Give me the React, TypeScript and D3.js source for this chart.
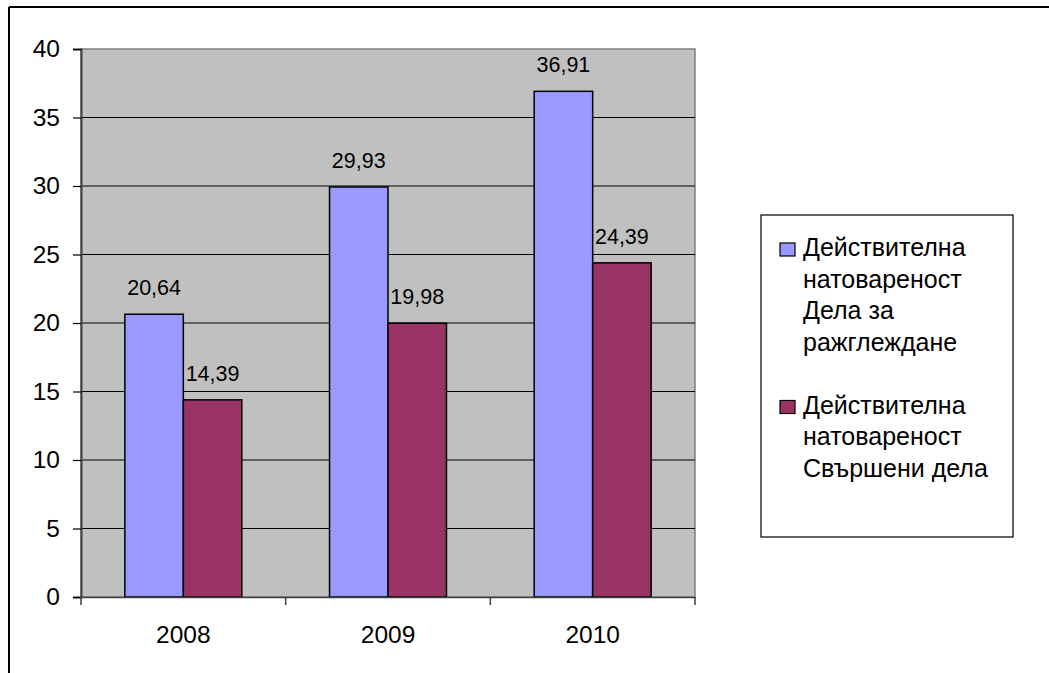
import { useEffect, useRef } from 'react'
import * as d3 from 'd3'

const YEARS = ['2008', '2009', '2010']
const SERIES_NAMES = [
  ['Действителна', 'натовареност', 'Дела за', 'ражглеждане'],
  ['Действителна', 'натовареност', 'Свършени дела'],
]
const CASES_TO_REVIEW = [20.64, 29.93, 36.91]
const CASES_DONE = [14.39, 19.98, 24.39]
const Y_TICKS = [0, 5, 10, 15, 20, 25, 30, 35, 40]
const COLORS = ['#9999FF', '#993366']

const FONT = 'Arial, "Liberation Sans", sans-serif'

export default function App() {
  const svgRef = useRef<SVGSVGElement>(null)

  useEffect(() => {
    if (!svgRef.current) return
    document.body.style.margin = '0'
    const svg = d3.select(svgRef.current)
    svg.selectAll('*').remove()

    const W = 1049
    const H = 673
    const plot = { left: 81, right: 695, top: 49, bottom: 597 }

    svg.attr('width', W).attr('height', H)
    svg.append('rect').attr('width', W).attr('height', H).attr('fill', '#fff')

    // outer chart frame (only top and left visible)
    svg.append('line').attr('x1', 9).attr('x2', W).attr('y1', 7).attr('y2', 7)
      .attr('stroke', '#000').attr('stroke-width', 2)
    svg.append('line').attr('x1', 9).attr('x2', 9).attr('y1', 7).attr('y2', H)
      .attr('stroke', '#000').attr('stroke-width', 2)

    // scales
    const x0 = d3.scaleBand<string>().domain(YEARS).range([plot.left, plot.right]).padding(0)
    const x1 = d3.scaleBand<number>().domain([0, 1]).range([0, x0.bandwidth()])
      .paddingInner(0).paddingOuter(0.75)
    const y = d3.scaleLinear().domain([0, 40]).range([plot.bottom, plot.top])

    // plot area
    svg.append('rect')
      .attr('x', plot.left).attr('y', plot.top)
      .attr('width', plot.right - plot.left).attr('height', plot.bottom - plot.top)
      .attr('fill', '#C0C0C0').attr('stroke', '#808080').attr('stroke-width', 1.5)

    // gridlines
    svg.append('g').selectAll('line')
      .data(Y_TICKS.filter(t => t > 0 && t < 40))
      .join('line')
      .attr('x1', plot.left).attr('x2', plot.right)
      .attr('y1', d => y(d)).attr('y2', d => y(d))
      .attr('stroke', '#000').attr('stroke-width', 1.2)

    // bars
    const series = [CASES_TO_REVIEW, CASES_DONE]
    series.forEach((vals, si) => {
      svg.append('g').selectAll('rect')
        .data(vals)
        .join('rect')
        .attr('x', (_, i) => x0(YEARS[i])! + x1(si)!)
        .attr('y', d => y(d))
        .attr('width', x1.bandwidth())
        .attr('height', d => plot.bottom - y(d))
        .attr('fill', COLORS[si])
        .attr('stroke', '#000').attr('stroke-width', 1.5)

      svg.append('g').selectAll('text')
        .data(vals)
        .join('text')
        .attr('x', (_, i) => x0(YEARS[i])! + x1(si)! + x1.bandwidth() / 2)
        .attr('y', d => y(d) - 19)
        .attr('text-anchor', 'middle')
        .attr('font-family', FONT).attr('font-size', 21.5).attr('fill', '#000')
        .text(d => d.toFixed(2).replace('.', ','))
    })

    // y axis
    const yAxis = svg.append('g').attr('transform', `translate(${plot.left},0)`)
      .call(d3.axisLeft(y).tickValues(Y_TICKS).tickSize(8).tickPadding(13).tickFormat(d3.format('d')))
    yAxis.select('.domain').attr('stroke', '#404040').attr('stroke-width', 2)
    yAxis.selectAll('.tick line').attr('stroke', '#000').attr('stroke-width', 1.2)
    yAxis.selectAll('text').attr('font-family', FONT).attr('font-size', 24.5).attr('fill', '#000')

    // x axis
    const xAxis = svg.append('g').attr('transform', `translate(0,${plot.bottom})`)
      .call(d3.axisBottom(x0).tickSize(0).tickPadding(0))
    xAxis.select('.domain').attr('stroke', '#404040').attr('stroke-width', 1.5)
    xAxis.selectAll('text')
      .attr('y', 46).attr('dy', 0)
      .attr('font-family', FONT).attr('font-size', 24.5).attr('fill', '#000')
    const boundaries = [...YEARS.map(yr => x0(yr)!), plot.right]
    xAxis.selectAll('.bound')
      .data(boundaries)
      .join('line')
      .attr('class', 'bound')
      .attr('x1', d => d).attr('x2', d => d)
      .attr('y1', 0).attr('y2', 8)
      .attr('stroke', '#404040').attr('stroke-width', 1.5)

    // legend
    const lg = svg.append('g')
    lg.append('rect')
      .attr('x', 761).attr('y', 215).attr('width', 252).attr('height', 322)
      .attr('fill', '#fff').attr('stroke', '#000').attr('stroke-width', 1.2)
    const lineH = 31.5
    let baseline = 256
    SERIES_NAMES.forEach((lines, si) => {
      lg.append('rect')
        .attr('x', 780).attr('y', baseline - 13).attr('width', 15).attr('height', 13)
        .attr('fill', COLORS[si]).attr('stroke', '#000').attr('stroke-width', 1.2)
      lines.forEach((ln, li) => {
        lg.append('text')
          .attr('x', 803).attr('y', baseline + li * lineH)
          .attr('font-family', FONT).attr('font-size', 25).attr('fill', '#000')
          .text(ln)
      })
      baseline += (lines.length + 1) * lineH
    })
  }, [])

  return <svg ref={svgRef} style={{ display: 'block' }} />
}
